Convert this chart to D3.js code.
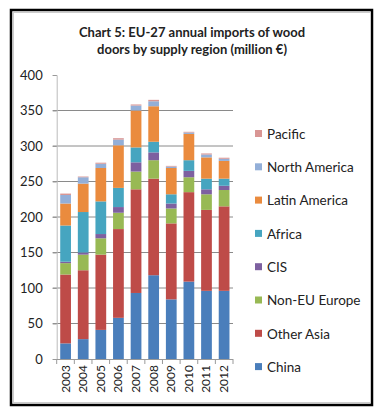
<!DOCTYPE html>
<html><head><meta charset="utf-8">
<script src="https://cdn.jsdelivr.net/npm/d3@7"></script>
<style>body{margin:0;background:#fff;}svg{display:block;font-family:Lato,"Open Sans",sans-serif;}</style>
</head><body>
<svg id="c" width="385" height="418"></svg>
<script>
const years = ["2003","2004","2005","2006","2007","2008","2009","2010","2011","2012"];
const seriesNames = ["China","Other Asia","Non-EU Europe","CIS","Africa","Latin America","North America","Pacific"];
const china        = [22, 28, 41, 58, 93, 118, 84, 109, 96, 96];
const otherAsia    = [97, 97, 106, 125, 146, 136, 107, 126, 114, 119];
const nonEUEurope  = [16, 22, 23, 23, 25, 26, 21, 21, 22, 23];
const cis          = [2, 3, 6, 8, 13, 11, 7, 9, 7, 6];
const africa       = [51, 57, 46, 27, 21, 15, 13, 15, 15, 10];
const latinAmerica = [31, 40, 47, 60, 52, 50, 37, 37, 30, 25];
const northAmerica = [12, 9, 6, 8, 7, 7, 2, 2, 4, 3];
const pacific      = [2, 1, 1.5, 2, 1.5, 2, 1, 1, 1.5, 1.5];
const yTicks = [0, 50, 100, 150, 200, 250, 300, 350, 400];
const colors = ["#4A7EBB","#BE4B48","#98B954","#7D60A0","#46A5C0","#EA8B3E","#93AFD8","#D99694"];

const seriesData = [china, otherAsia, nonEUEurope, cis, africa, latinAmerica, northAmerica, pacific];
const rows = years.map((y, i) => {
  const r = {year: y};
  seriesNames.forEach((s, k) => r[s] = seriesData[k][i]);
  return r;
});

const svg = d3.select("#c");
// frame
svg.append("rect").attr("x", 11).attr("y", 10).attr("width", 361).attr("height", 395)
  .attr("fill", "none").attr("stroke", "#000").attr("stroke-width", 2.5);
svg.append("rect").attr("x", 13.5).attr("y", 12.5).attr("width", 357).attr("height", 390)
  .attr("fill", "none").attr("stroke", "#ccc").attr("stroke-width", 1);

// title
const title = svg.append("text").attr("text-anchor", "middle").attr("font-weight", "bold")
  .attr("font-size", 13).attr("fill", "#222");
title.append("tspan").attr("x", 192).attr("y", 37).text("Chart 5: EU-27 annual imports of wood");
title.append("tspan").attr("x", 192).attr("y", 54).text("doors by supply region (million €)");

const x0 = 56.7, x1 = 233, yTop = 75, yBot = 359;
const x = d3.scaleBand().domain(years).range([x0, x1]).paddingInner(0.39).paddingOuter(0.2);
const y = d3.scaleLinear().domain([0, 400]).range([yBot, yTop]);

// gridlines
svg.append("g").selectAll("line").data(yTicks.filter(t => t > 0 && t < 400)).join("line")
  .attr("x1", x0 - 4).attr("x2", x1).attr("y1", d => y(d)).attr("y2", d => y(d))
  .attr("stroke", "#8a8a8a").attr("stroke-width", 1);

// y axis
const yAxis = svg.append("g").attr("transform", `translate(${x0},0)`)
  .call(d3.axisLeft(y).tickValues(yTicks).tickSize(4).tickPadding(10));
yAxis.select(".domain").attr("stroke", "#bbb");
yAxis.selectAll(".tick line").attr("stroke", "#999");
yAxis.selectAll("text").attr("font-size", 13).attr("fill", "#222")
  .attr("font-family", "Lato, 'Open Sans', sans-serif");

// bars
const stack = d3.stack().keys(seriesNames)(rows);
svg.append("g").selectAll("g").data(stack).join("g")
  .attr("fill", (d, i) => colors[i])
  .selectAll("rect").data(d => d).join("rect")
  .attr("x", d => x(d.data.year))
  .attr("width", x.bandwidth())
  .attr("y", d => y(d[1]))
  .attr("height", d => y(d[0]) - y(d[1]));

// x axis
svg.append("line").attr("x1", x0).attr("x2", x1).attr("y1", yBot + 0.5).attr("y2", yBot + 0.5)
  .attr("stroke", "#999");
const bounds = d3.range(years.length + 1).map(i => x0 + i * (x1 - x0) / years.length);
svg.append("g").selectAll("line").data(bounds).join("line")
  .attr("x1", d => d).attr("x2", d => d).attr("y1", yBot).attr("y2", yBot + 5)
  .attr("stroke", "#999");
svg.append("g").selectAll("text").data(years).join("text")
  .attr("transform", d => `translate(${x(d) + x.bandwidth() / 2 + 4},${yBot + 6}) rotate(-90)`)
  .attr("text-anchor", "end").attr("font-size", 12).attr("fill", "#222")
  .text(d => d);

// legend
const legendOrder = seriesNames.slice().reverse();
const lg = svg.append("g").selectAll("g").data(legendOrder).join("g")
  .attr("transform", (d, i) => `translate(255,${134 + i * 33.3})`);
lg.append("rect").attr("x", 0).attr("y", -4).attr("width", 7).attr("height", 7)
  .attr("fill", d => colors[seriesNames.indexOf(d)]);
lg.append("text").attr("x", 12).attr("y", 0).attr("dy", "0.35em")
  .attr("font-size", 13.5).attr("fill", "#222").text(d => d);
</script>
</body></html>
